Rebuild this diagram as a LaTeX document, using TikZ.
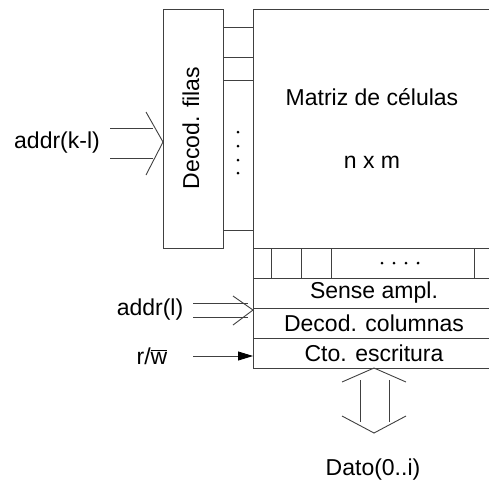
\documentclass[tikz,border=0pt]{standalone}
\usepackage{fontspec}
\setmainfont{Liberation Sans}
\usetikzlibrary{positioning, calc, arrows.meta}
\tikzset{block/.style={draw=black!75,line width=0.9pt,rectangle,inner sep=0pt,outer sep=0pt,
      font=\fontsize{23}{27}\selectfont},
    row/.style={block,minimum width=242pt,minimum height=30pt,anchor=north west},
    wire/.style={draw=black!75,line width=0.9pt},
    tag/.style={font=\fontsize{23}{27}\selectfont,inner sep=0pt},
    cell dot/.style={circle,fill=black,inner sep=0pt,minimum size=3pt}}
\begin{document}
\begin{tikzpicture}[x=1pt,y=-1pt]

  \clip (0,0) rectangle (489,480);

  % Row decoder and cell matrix
  \node[block,minimum width=60pt,minimum height=239pt,anchor=north west] (dec) at (163,9) {};
  \node[tag,rotate=90] (decname) at (191,128) {Decod. filas};

  \node[block,minimum width=242pt,minimum height=239pt,anchor=north west] (mat) at (253,9) {};
  \node[tag] (matname) at (372,97) {Matriz de células};
  \node[tag] (matsize) at (372,162) {n x m};

  % word lines
  \foreach \yy in {27,57,80,230}
    \draw[wire] (dec.east |- 0,\yy) -- (mat.west |- 0,\yy);
  \foreach \yy in {132,146,160,173}
    \node[cell dot] (rdot\yy) at (238,\yy) {};

  % Column part
  \node[row] (cols) at (mat.south west) {};
  \node[row,below=0pt of cols] (sense) {Sense ampl.};
  \node[row,below=0pt of sense] (coldec) {Decod. columnas};
  \node[row,below=0pt of coldec] (wrc) {Cto. escritura};

  \foreach \xx in {271,301,331,474}
    \draw[wire] (\xx,0 |- cols.north) -- (\xx,0 |- cols.south);
  \foreach \xx in {382,394,406,418}
    \node[cell dot] (cdot\xx) at (\xx,263) {};

  % Address inputs
  \coordinate (kla) at (110,128);
  \coordinate (klb) at (110,158);
  \draw[wire] (kla) -- ++(43,0);
  \draw[wire] (klb) -- ++(43,0);
  \draw[wire] (146,112) -- (dec.west |- 0,142) -- (146,175);
  \node[tag] (klname) at (57,143) {addr(k-l)};

  \coordinate (la) at (193,303);
  \coordinate (lb) at (193,317);
  \draw[wire] (la) -- ++(55,0);
  \draw[wire] (lb) -- ++(55,0);
  \draw[wire] (233,296) -- (sense.west |- 0,310) -- (233,325);
  \node[tag] (lname) at (150,310) {addr(l)};

  % read / write
  \coordinate (rw) at (193,356);
  \draw[wire,-{Triangle[length=15pt,width=9pt,color=black]}] (rw) -- (wrc.west |- rw);
  \node[tag] (rwname) at (152,356) {r/$\overline{\mbox{w}}$};

  % Data bus
  \coordinate (dbot) at (374,433);
  \draw[wire] (342,382) -- (wrc.south) -- (406,382);
  \draw[wire] (342,416) -- (dbot) -- (406,416);
  \draw[wire] (360,380) -- (360,422);
  \draw[wire] (389,380) -- (389,422);
  \node[tag] (dato) at (373,470) {Dato(0..i)};

\end{tikzpicture}
\end{document}
